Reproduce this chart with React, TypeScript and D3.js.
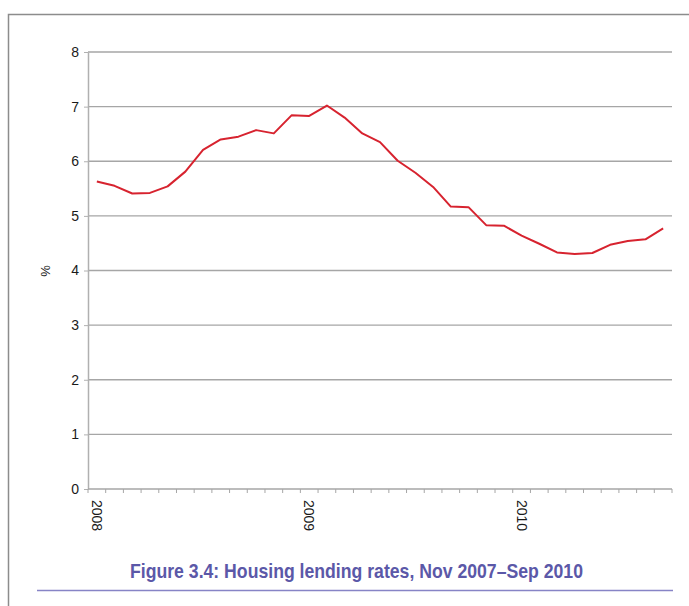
import { useEffect, useRef } from 'react';
import * as d3 from 'd3';

// Monthly housing lending rates, Jan 2008 – Sep 2010
const months = [
  '2008-01', '2008-02', '2008-03', '2008-04', '2008-05', '2008-06',
  '2008-07', '2008-08', '2008-09', '2008-10', '2008-11', '2008-12',
  '2009-01', '2009-02', '2009-03', '2009-04', '2009-05', '2009-06',
  '2009-07', '2009-08', '2009-09', '2009-10', '2009-11', '2009-12',
  '2010-01', '2010-02', '2010-03', '2010-04', '2010-05', '2010-06',
  '2010-07', '2010-08', '2010-09',
];
const rates = [
  5.63, 5.55, 5.41, 5.42, 5.54, 5.81, 6.21, 6.4, 6.45, 6.57, 6.51, 6.84,
  6.83, 7.02, 6.8, 6.51, 6.35, 6.01, 5.79, 5.53, 5.17, 5.16, 4.83, 4.82,
  4.64, 4.49, 4.33, 4.3, 4.32, 4.47, 4.54, 4.57, 4.77,
];
const yearLabels: Record<string, string> = {
  '2008-01': '2008',
  '2009-01': '2009',
  '2010-01': '2010',
};
const yTicks = [0, 1, 2, 3, 4, 5, 6, 7, 8];
const title = 'Figure 3.4: Housing lending rates, Nov 2007\u2013Sep 2010';

const svgWidth = 689;
const svgHeight = 606;

function App() {
  const ref = useRef<SVGSVGElement>(null);

  useEffect(() => {
    const svg = d3.select(ref.current);
    svg.selectAll('*').remove();

    const left = 88;
    const right = 672;
    const top = 52;
    const bottom = 489;
    const font = '"Liberation Sans Narrow", "Liberation Sans", Arial, sans-serif';

    // Frame
    svg
      .append('path')
      .attr('d', `M8.5,${svgHeight} V14.5 H${svgWidth}`)
      .attr('fill', 'none')
      .attr('stroke', '#8c8c8c')
      .attr('stroke-width', 1.5);

    const x = d3.scaleBand().domain(months).range([left, right]);
    const y = d3.scaleLinear().domain([0, 8]).range([bottom, top]);

    // Gridlines
    svg
      .append('g')
      .selectAll('line')
      .data(yTicks.filter((t) => t > 0))
      .join('line')
      .attr('x1', left)
      .attr('x2', right)
      .attr('y1', (d) => y(d))
      .attr('y2', (d) => y(d))
      .attr('stroke', '#a6a6a6')
      .attr('stroke-width', 1.3);

    // Y axis
    const yAxis = svg
      .append('g')
      .attr('transform', `translate(${left}, 0)`)
      .call(d3.axisLeft(y).tickValues(yTicks).tickSize(4).tickSizeOuter(0).tickPadding(5));
    yAxis.select('.domain').attr('stroke', '#b0b0b0').attr('stroke-width', 1.5);
    yAxis.selectAll('.tick line').attr('stroke', '#b0b0b0');
    yAxis
      .selectAll('.tick text')
      .attr('font-family', font)
      .attr('font-size', 14)
      .attr('fill', '#1a1a1a');

    // X axis: ticks on band boundaries
    const xAxis = svg.append('g').attr('transform', `translate(0, ${bottom})`);
    xAxis
      .append('line')
      .attr('x1', left)
      .attr('x2', right)
      .attr('stroke', '#a6a6a6')
      .attr('stroke-width', 1.3);
    const boundaries = months.map((m) => x(m) as number).concat([right]);
    xAxis
      .selectAll('line.tick')
      .data(boundaries)
      .join('line')
      .attr('class', 'tick')
      .attr('x1', (d) => d)
      .attr('x2', (d) => d)
      .attr('y1', 0)
      .attr('y2', 4)
      .attr('stroke', '#a6a6a6');
    xAxis
      .selectAll('text')
      .data(months.filter((m) => yearLabels[m]))
      .join('text')
      .attr(
        'transform',
        (d) => `translate(${(x(d) as number) + x.bandwidth() / 2 - 5}, 11) rotate(90)`
      )
      .attr('font-family', font)
      .attr('font-size', 14)
      .attr('fill', '#1a1a1a')
      .text((d) => yearLabels[d]);

    // Y label
    svg
      .append('text')
      .attr('transform', `translate(50, 271) rotate(-90)`)
      .attr('text-anchor', 'middle')
      .attr('font-family', font)
      .attr('font-size', 13)
      .attr('fill', '#1a1a1a')
      .text('%');

    // Line
    const line = d3
      .line<number>()
      .x((_, i) => (x(months[i]) as number) + x.bandwidth() / 2)
      .y((d) => y(d));
    svg
      .append('path')
      .datum(rates)
      .attr('d', line)
      .attr('fill', 'none')
      .attr('stroke', '#d7232f')
      .attr('stroke-width', 2)
      .attr('stroke-linejoin', 'round');

    // Title (condensed to match the narrow face)
    svg
      .append('text')
      .attr('x', 130)
      .attr('y', 578)
      .attr('textLength', 453)
      .attr('lengthAdjust', 'spacingAndGlyphs')
      .attr('font-family', font)
      .attr('font-weight', 'bold')
      .attr('font-size', 21)
      .attr('fill', '#5b58a8')
      .text(title);

    svg
      .append('line')
      .attr('x1', 37)
      .attr('x2', 673)
      .attr('y1', 590.5)
      .attr('y2', 590.5)
      .attr('stroke', '#8784c6')
      .attr('stroke-width', 1.5);
  }, []);

  return (
    <svg
      ref={ref}
      width={svgWidth}
      height={svgHeight}
      style={{ position: 'absolute', left: 0, top: 0, background: '#fff' }}
    ></svg>
  );
}

export default App;
